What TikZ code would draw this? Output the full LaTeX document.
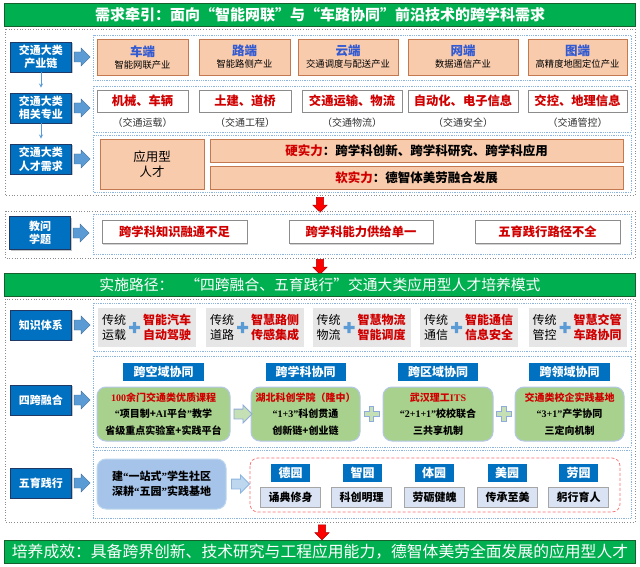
\documentclass[tikz,border=0pt]{standalone}
\usepackage{fontspec}
\setmainfont{Noto Sans CJK SC}
\newfontfamily\latserif{Liberation Serif}
\usepackage{tikz}
\usetikzlibrary{shapes.arrows, shadows, calc, positioning}
\definecolor{bannergreen}{RGB}{0,176,80}
\definecolor{bannerdark}{RGB}{22,96,46}
\definecolor{leftblue}{RGB}{0,112,192}
\definecolor{leftdark}{RGB}{31,56,100}
\definecolor{arrowblue}{RGB}{91,155,213}
\definecolor{arrowdark}{RGB}{65,113,156}
\definecolor{framegray}{RGB}{140,140,140}
\definecolor{frameblue}{RGB}{140,180,225}
\definecolor{peach}{RGB}{248,203,173}
\definecolor{peachdark}{RGB}{196,120,80}
\definecolor{titleblue}{RGB}{50,90,210}
\definecolor{txtred}{RGB}{208,0,0}
\definecolor{arrowred}{RGB}{170,0,0}
\definecolor{knowgray}{RGB}{231,230,230}
\definecolor{leafgreen}{RGB}{169,209,142}
\definecolor{palegreen}{RGB}{197,224,180}
\definecolor{plusline}{RGB}{143,170,220}
\definecolor{boxedge}{RGB}{180,199,231}
\definecolor{skyfill}{RGB}{166,196,234}
\definecolor{paleblue}{RGB}{189,215,238}
\definecolor{dashred}{RGB}{250,110,110}
\definecolor{gardenfill}{RGB}{218,227,243}

\begin{document}
\begin{tikzpicture}[
    x=1pt, y=-1pt,
    banner/.style = {
        draw=bannerdark,
        line width=1pt,
        fill=bannergreen,
        text=white,
        minimum width=631pt,
        minimum height=23pt,
        inner sep=0pt
    },
    sidebox/.style = {
        draw=leftdark,
        line width=0.8pt,
        fill=leftblue,
        text=white,
        font=\fontsize{11}{13.5}\selectfont\bfseries,
        align=center,
        minimum width=61pt,
        minimum height=30pt,
        inner sep=0pt,
        drop shadow={shadow xshift=1.2pt, shadow yshift=-1.2pt, opacity=0.45}
    },
    sidearrow/.style = {
        single arrow,
        draw=arrowdark,
        fill=arrowblue,
        line width=0.4pt,
        minimum height=16pt,
        inner sep=4.8pt,
        single arrow head extend=4pt
    },
    outerframe/.style = {
        draw=framegray,
        line width=0.7pt,
        dotted
    },
    innerframe/.style = {
        draw=frameblue,
        line width=0.8pt,
        densely dotted
    },
    peachbox/.style = {
        draw=peachdark,
        line width=0.8pt,
        fill=peach,
        align=center,
        inner sep=0pt,
        minimum height=36pt,
        font=\fontsize{9.3}{11}\selectfont,
        drop shadow={shadow xshift=1pt, shadow yshift=-1pt, opacity=0.3}
    },
    majorbox/.style = {
        draw=black!45,
        line width=0.8pt,
        fill=white,
        text=txtred,
        font=\fontsize{12.3}{14}\selectfont\bfseries,
        inner sep=0pt,
        minimum height=23pt,
        drop shadow={shadow xshift=1pt, shadow yshift=-1pt, opacity=0.35}
    },
    note/.style = {
        font=\fontsize{10}{12}\selectfont,
        text=black!80
    },
    knowbox/.style = {
        fill=knowgray,
        minimum width=98pt,
        minimum height=39pt,
        inner sep=0pt
    },
    oldtext/.style = {
        font=\fontsize{12}{15}\selectfont,
        align=center,
        inner sep=0pt
    },
    newtext/.style = {
        font=\fontsize{12}{15}\selectfont\bfseries,
        text=txtred,
        align=center,
        inner sep=0pt
    },
    headbox/.style = {
        fill=leftblue,
        text=white,
        font=\fontsize{12}{14}\selectfont\bfseries,
        inner sep=0pt,
        minimum height=18pt
    },
    greenbox/.style = {
        draw=boxedge,
        line width=1pt,
        fill=leafgreen,
        rounded corners=9pt,
        minimum height=54pt,
        align=center,
        inner sep=0pt,
        font=\fontsize{10}{16.5}\selectfont\bfseries
    },
    hollowarrow/.style = {
        single arrow,
        draw=plusline,
        line width=0.8pt,
        minimum height=18pt,
        inner sep=4.5pt,
        single arrow head extend=4pt
    },
    downarrow/.style = {
        single arrow,
        shape border rotate=270,
        draw=arrowred,
        fill=red,
        line width=0.5pt,
        minimum height=15pt,
        inner sep=3.3pt,
        single arrow head extend=3.5pt
    },
    roundblue/.style = {
        draw=paleblue,
        line width=1pt,
        fill=skyfill,
        rounded corners=9pt,
        minimum width=129pt,
        minimum height=50pt,
        align=center,
        inner sep=0pt,
        font=\fontsize{11}{15}\selectfont\bfseries
    },
    gardenframe/.style = {
        draw=dashred,
        line width=0.7pt,
        densely dashed,
        rounded corners=8pt
    },
    gardenbox/.style = {
        draw=black!35,
        fill=gardenfill,
        minimum width=60pt,
        minimum height=20pt,
        inner sep=0pt,
        font=\fontsize{11}{13}\selectfont\bfseries
    },
    link/.style = {
        ->,
        >=stealth,
        draw=arrowblue,
        line width=0.8pt,
        shorten >=5pt
    },
    plussign/.pic = {
        \path[pic actions] (-1,-0.3) -- (-0.3,-0.3) -- (-0.3,-1) -- (0.3,-1) -- (0.3,-0.3) -- (1,-0.3) -- (1,0.3) -- (0.3,0.3) -- (0.3,1) -- (-0.3,1) -- (-0.3,0.3) -- (-1,0.3) -- cycle;
    }
]
    \fill[white] (0,0) rectangle (640,567);
    \useasboundingbox (0,0) rectangle (640,567);

    % Demand
    \node[banner, font=\fontsize{15}{17}\selectfont\bfseries] (demand) at (320,15) {需求牵引：面向“智能网联”与“车路协同”前沿技术的跨学科需求};
    \draw[outerframe] (5,29) rectangle (635,195);
    \draw[innerframe] (93,35) rectangle (631,80);
    \draw[innerframe] (93,86) rectangle (631,132);
    \draw[innerframe] (93,135) rectangle (631,192);

    \node[sidebox] (industry) at (41,57) {交通大类\\产业链};
    \node[sidebox] (major) at (41,108) {交通大类\\相关专业};
    \node[sidebox] (talent) at (41,159) {交通大类\\人才需求};
    \draw[link] (industry) -- (major);
    \draw[link] (major) -- (talent);
    \node[sidearrow, right=2pt of industry] (industryarrow) {};
    \node[sidearrow, right=2pt of major] (majorarrow) {};
    \node[sidearrow, right=2pt of talent] (talentarrow) {};

    % Industry chain
    \node[peachbox, minimum width=91pt] (carend) at (142.5,57) {{\fontsize{12.5}{14}\selectfont\bfseries\color{titleblue}车端}\\[1pt]智能网联产业};
    \node[peachbox, minimum width=91pt] (roadend) at (244.5,57) {{\fontsize{12.5}{14}\selectfont\bfseries\color{titleblue}路端}\\[1pt]智能路侧产业};
    \node[peachbox, minimum width=100pt] (cloudend) at (348,57) {{\fontsize{12.5}{14}\selectfont\bfseries\color{titleblue}云端}\\[1pt]交通调度与配送产业};
    \node[peachbox, minimum width=110pt] (netend) at (463,57) {{\fontsize{12.5}{14}\selectfont\bfseries\color{titleblue}网端}\\[1pt]数据通信产业};
    \node[peachbox, minimum width=99pt] (mapend) at (577.5,57) {{\fontsize{12.5}{14}\selectfont\bfseries\color{titleblue}图端}\\[1pt]高精度地图定位产业};

    % Majors
    \node[majorbox, minimum width=91pt, minimum height=22pt] (mech) at (142.5,101) {机械、车辆};
    \node[majorbox, minimum width=92pt, minimum height=22pt] (civil) at (245,101) {土建、道桥};
    \node[majorbox, minimum width=100pt, minimum height=22pt] (logi) at (352,101) {交通运输、物流};
    \node[majorbox, minimum width=110pt, minimum height=22pt] (auto) at (463,101) {自动化、电子信息};
    \node[majorbox, minimum width=99pt, minimum height=22pt] (ctrl) at (577.5,101) {交控、地理信息};
    \node[note] (mechnote) at (142.5,123) {（交通运载）};
    \node[note] (civilnote) at (245,123) {（交通工程）};
    \node[note] (loginote) at (352,123) {（交通物流）};
    \node[note] (autonote) at (463,123) {（交通安全）};
    \node[note] (ctrlnote) at (577.5,123) {（交通管控）};

    % Talent
    \node[peachbox, minimum width=104pt, minimum height=50pt, font=\fontsize{12.5}{15}\selectfont] (applied) at (152,164) {应用型\\人才};
    \node[peachbox, minimum width=413pt, minimum height=23pt, font=\fontsize{12.5}{15}\selectfont\bfseries] (hard) at (416.5,150.5) {\textcolor{txtred}{硬实力}：跨学科创新、跨学科研究、跨学科应用};
    \node[peachbox, minimum width=413pt, minimum height=23pt, font=\fontsize{12.5}{15}\selectfont\bfseries] (soft) at (416.5,177.5) {\textcolor{txtred}{软实力}：德智体美劳融合发展};

    % Issues
    \node[downarrow] (down1) at (320,203) {};
    \draw[outerframe] (5,211) rectangle (635,258);
    \draw[innerframe] (93,214) rectangle (631,254);
    \node[sidebox, minimum height=33pt] (issue) at (40,233) {教问\\学题};
    \node[sidearrow, right=2pt of issue] (issuearrow) {};
    \node[majorbox, minimum width=145pt] (gapA) at (174.5,232) {跨学科知识融通不足};
    \node[majorbox, minimum width=144pt] (gapB) at (361,232) {跨学科能力供给单一};
    \node[majorbox, minimum width=145pt] (gapC) at (547.5,232) {五育践行路径不全};

    % Path
    \node[downarrow] (down2) at (320,265) {};
    \node[banner, font=\fontsize{14.8}{17}\selectfont] (path) at (320,285) {实施路径：\hspace{0.8em}“四跨融合、五育践行”交通大类应用型人才培养模式};
    \draw[outerframe] (5,299) rectangle (635,522);
    \draw[innerframe] (93,303) rectangle (631,351);
    \draw[innerframe] (93,356) rectangle (631,447);
    \draw[innerframe] (93,450) rectangle (631,518);

    % Knowledge
    \node[sidebox] (knowledge) at (41,325) {知识体系};
    \node[sidearrow, right=2pt of knowledge] (knowledgearrow) {};
    \node[knowbox] (carry) at (147,327.5) {};
    \node[oldtext] (carryold) at ($(carry)+(-33,0)$) {传统\\运载};
    \pic[fill=arrowblue, scale=5.5] at ($(carry)+(-12.5,0)$) {plussign};
    \node[newtext] (carrynew) at ($(carry)+(20,0)$) {智能汽车\\自动驾驶};
    \node[knowbox] (road) at (255,327.5) {};
    \node[oldtext] (roadold) at ($(road)+(-33,0)$) {传统\\道路};
    \pic[fill=arrowblue, scale=5.5] at ($(road)+(-12.5,0)$) {plussign};
    \node[newtext] (roadnew) at ($(road)+(20,0)$) {智慧路侧\\传感集成};
    \node[knowbox] (flow) at (361.5,327.5) {};
    \node[oldtext] (flowold) at ($(flow)+(-33,0)$) {传统\\物流};
    \pic[fill=arrowblue, scale=5.5] at ($(flow)+(-12.5,0)$) {plussign};
    \node[newtext] (flownew) at ($(flow)+(20,0)$) {智慧物流\\智能调度};
    \node[knowbox] (comm) at (469,327.5) {};
    \node[oldtext] (commold) at ($(comm)+(-33,0)$) {传统\\通信};
    \pic[fill=arrowblue, scale=5.5] at ($(comm)+(-12.5,0)$) {plussign};
    \node[newtext] (commnew) at ($(comm)+(20,0)$) {智能通信\\信息安全};
    \node[knowbox] (manage) at (577.5,327.5) {};
    \node[oldtext] (manageold) at ($(manage)+(-33,0)$) {传统\\管控};
    \pic[fill=arrowblue, scale=5.5] at ($(manage)+(-12.5,0)$) {plussign};
    \node[newtext] (managenew) at ($(manage)+(20,0)$) {智慧交管\\车路协同};

    % Four crossings
    \node[sidebox] (fusion) at (41,400) {四跨融合};
    \node[sidearrow, right=2pt of fusion] (fusionarrow) {};
    \node[headbox, minimum width=81pt] (airhead) at (163.5,371.5) {跨空域协同};
    \node[greenbox, minimum width=133pt] (air) at (163.5,414) {\textcolor{txtred}{{\latserif 100}余门交通类优质课程}\\{\latserif“}项目制+{\latserif AI}平台{\latserif”}教学\\省级重点实验室+实践平台};
    \node[headbox, minimum width=80pt] (subjecthead) at (305.5,371.5) {跨学科协同};
    \node[greenbox, minimum width=109pt] (subject) at (305.5,414) {\textcolor{txtred}{湖北科创学院（隆中）}\\{\latserif“1+3”}科创贯通\\创新链+创业链};
    \node[headbox, minimum width=80pt] (regionhead) at (438,371.5) {跨区域协同};
    \node[greenbox, minimum width=110pt] (region) at (438,414) {\textcolor{txtred}{武汉理工{\latserif ITS}}\\{\latserif“2+1+1”}校校联合\\三共享机制};
    \node[headbox, minimum width=81pt] (fieldhead) at (569.5,371.5) {跨领域协同};
    \node[greenbox, minimum width=109pt] (field) at (569.5,414) {\textcolor{txtred}{交通类校企实践基地}\\{\latserif“3+1”}产学协同\\三定向机制};
    \node[hollowarrow, fill=palegreen] (airarrow) at ($(air.east)!0.5!(subject.west)$) {};
    \pic[fill=palegreen, draw=plusline, line width=0.8pt, scale=7.5] at ($(subject.east)!0.5!(region.west)$) {plussign};
    \pic[fill=palegreen, draw=plusline, line width=0.8pt, scale=7.5] at ($(region.east)!0.5!(field.west)$) {plussign};

    % Five gardens
    \node[sidebox] (practice) at (41,483) {五育践行};
    \node[sidearrow, right=2pt of practice] (practicearrow) {};
    \node[roundblue] (community) at (161.5,484) {建{\latserif“}一站式{\latserif”}学生社区\\深耕{\latserif“}五园{\latserif”}实践基地};
    \draw[gardenframe] (250,458) rectangle (620,512);
    \node[hollowarrow, fill=paleblue, draw=frameblue] (communityarrow) at (238,484) {};
    \node[headbox, minimum width=39pt] (de) at (290.5,473) {德园};
    \node[gardenbox] (detext) at (290.5,497) {诵典修身};
    \node[headbox, minimum width=39pt] (zhi) at (362.5,473) {智园};
    \node[gardenbox] (zhitext) at (361.5,497) {科创明理};
    \node[headbox, minimum width=39pt] (ti) at (434,473) {体园};
    \node[gardenbox] (titext) at (434.5,497) {劳砺健魄};
    \node[headbox, minimum width=39pt] (mei) at (507,473) {美园};
    \node[gardenbox] (meitext) at (507.5,497) {传承至美};
    \node[headbox, minimum width=39pt] (lao) at (578.5,473) {劳园};
    \node[gardenbox] (laotext) at (578.5,497) {躬行育人};

    % Result
    \node[downarrow] (down3) at (322,530.5) {};
    \node[banner, font=\fontsize{15.8}{18}\selectfont] (result) at (320,551.5) {培养成效：具备跨界创新、技术研究与工程应用能力，德智体美劳全面发展的应用型人才};
\end{tikzpicture}
\end{document}
